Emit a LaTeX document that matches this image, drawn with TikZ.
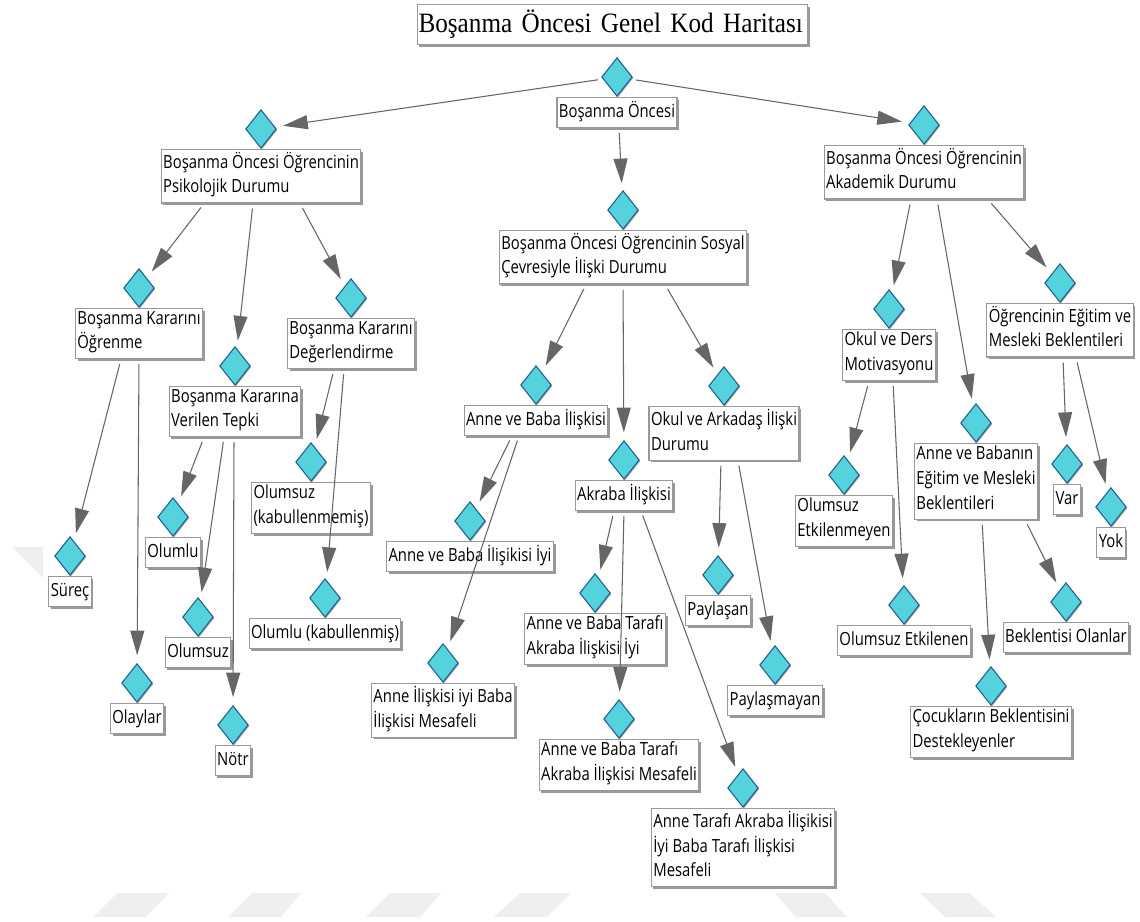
\documentclass[tikz,border=0pt]{standalone}
\usepackage{fontspec}
\setmainfont[FakeStretch=0.82]{Open Sans}
\newfontfamily\titlefont[FakeStretch=0.90]{Liberation Serif}
\usetikzlibrary{positioning,shapes.geometric,shadows,arrows.meta}
\definecolor{pointfill}{HTML}{55D3DC}
\definecolor{pointline}{HTML}{1F5F8F}
\definecolor{boxline}{HTML}{999999}
\definecolor{arrowgray}{HTML}{666666}
\definecolor{stripegray}{HTML}{EFEFEF}

\begin{document}
\begin{tikzpicture}[x=0.75pt,y=-0.75pt,
    point/.style={diamond,draw=pointline,fill=pointfill,line width=0.8pt,minimum width=23pt,minimum height=29pt,inner sep=0pt,drop shadow={shadow xshift=0.8pt,shadow yshift=-0.8pt,fill=gray!70,opacity=1}},
    box/.style={draw=boxline,fill=white,line width=0.8pt,align=left,inner xsep=1.5pt,inner ysep=2pt,font=\fontsize{13.6}{18.5}\selectfont,execute at begin node=\strut,execute at end node=\strut,drop shadow={shadow xshift=1.6pt,shadow yshift=-1.6pt,fill=gray!80,opacity=1}},
    titlebox/.style={draw=boxline,fill=white,line width=0.8pt,text width=291pt,align=left,minimum height=30pt,inner sep=1pt,font=\titlefont\fontsize{21}{24}\selectfont,drop shadow={shadow xshift=1.6pt,shadow yshift=-1.6pt,fill=gray!80,opacity=1}},
    every edge/.style={draw=arrowgray,line width=0.8pt,-{Triangle[length=18.5pt,width=10.5pt]},shorten <=3.75pt,shorten >=6pt}]
          \useasboundingbox (0,0) rectangle (1140,922);
          \fill[stripegray] (93,917) -- (117,893) -- (169,893) -- (146,917) -- cycle;
          \fill[stripegray] (228,917) -- (252,893) -- (301,893) -- (281,917) -- cycle;
          \fill[stripegray] (366,917) -- (390,893) -- (441,893) -- (420,917) -- cycle;
          \fill[stripegray] (494,917) -- (520,893) -- (571,893) -- (547,917) -- cycle;
          \fill[stripegray] (775,893) -- (825,893) -- (847,917) -- (796,917) -- cycle;
          \fill[stripegray] (920,893) -- (969,893) -- (996,917) -- (945,917) -- cycle;
          \fill[stripegray] (12,547) -- (43,547) -- (43,578) -- cycle;
          \node[titlebox](title) at (612.5,24.5) {\mbox{Boşanma Öncesi Genel Kod Haritası}};
          \node[point](d0)  at (617,77)   {};
          \node[box](b0)    [below=0pt of d0]   {Boşanma Öncesi};
          \node[point](d1)  at (261,129)  {};
          \node[box](b1)    [below=0pt of d1]   {Boşanma Öncesi Öğrencinin\\Psikolojik Durumu};
          \node[point](d2)  at (623,210)  {};
          \node[box](b2)    [below=0pt of d2]   {Boşanma Öncesi Öğrencinin Sosyal\\Çevresiyle İlişki Durumu};
          \node[point](d3)  at (924,125)  {};
          \node[box](b3)    [below=0pt of d3]   {Boşanma Öncesi Öğrencinin\\Akademik Durumu};
          \node[point](d4)  at (139,288)  {};
          \node[box](b4)    [below=0pt of d4]   {Boşanma Kararını\\Öğrenme};
          \node[point](d5)  at (235,366)  {};
          \node[box](b5)    [below=0pt of d5]   {Boşanma Kararına\\Verilen Tepki};
          \node[point](d6)  at (351,298)  {};
          \node[box](b6)    [below=0pt of d6]   {Boşanma Kararını\\Değerlendirme};
          \node[point](d7)  at (70,556)   {};
          \node[box](b7)    [below=0pt of d7]   {Süreç};
          \node[point](d8)  at (137,683)  {};
          \node[box](b8)    [below=0pt of d8]   {Olaylar};
          \node[point](d9)  at (173,517)  {};
          \node[box](b9)    [below=0pt of d9]   {Olumlu};
          \node[point](d10) at (198,617)  {};
          \node[box](b10)   [below=0pt of d10]  {Olumsuz};
          \node[point](d11) at (233,725)  {};
          \node[box](b11)   [below=0pt of d11]  {Nötr};
          \node[point](d12) at (311,462)  {};
          \node[box](b12)   [below=0pt of d12]  {Olumsuz\\(kabullenmemiş)};
          \node[point](d13) at (325,598)  {};
          \node[box](b13)   [below=0pt of d13]  {Olumlu (kabullenmiş)};
          \node[point](d14) at (536,385)  {};
          \node[box](b14)   [below=0pt of d14]  {Anne ve Baba İlişkisi};
          \node[point](d15) at (624,460)  {};
          \node[box](b15)   [below=0pt of d15]  {Akraba İlişkisi};
          \node[point](d16) at (724,386)  {};
          \node[box](b16)   [below=0pt of d16]  {Okul ve Arkadaş İlişki\\Durumu};
          \node[point](d17) at (470,521)  {};
          \node[box](b17)   [below=0pt of d17]  {Anne ve Baba İlişikisi İyi};
          \node[point](d18) at (443,663)  {};
          \node[box](b18)   [below=0pt of d18]  {Anne İlişkisi iyi Baba\\İlişkisi Mesafeli};
          \node[point](d19) at (595,593)  {};
          \node[box](b19)   [below=0pt of d19]  {Anne ve Baba Tarafı\\Akraba İlişkisi İyi};
          \node[point](d20) at (619,719)  {};
          \node[box](b20)   [below=0pt of d20]  {Anne ve Baba Tarafı\\Akraba İlişkisi Mesafeli};
          \node[point](d21) at (743,788)  {};
          \node[box](b21)   [below=0pt of d21]  {Anne Tarafı Akraba İlişikisi\\İyi Baba Tarafı İlişkisi\\Mesafeli};
          \node[point](d22) at (718,575)  {};
          \node[box](b22)   [below=0pt of d22]  {Paylaşan};
          \node[point](d23) at (775,665)  {};
          \node[box](b23)   [below=0pt of d23]  {Paylaşmayan};
          \node[point](d24) at (889,309)  {};
          \node[box](b24)   [below=0pt of d24]  {Okul ve Ders\\Motivasyonu};
          \node[point](d25) at (976,423)  {};
          \node[box](b25)   [below=0pt of d25]  {Anne ve Babanın\\Eğitim ve Mesleki\\Beklentileri};
          \node[point](d26) at (1060,283) {};
          \node[box](b26)   [below=0pt of d26]  {Öğrencinin Eğitim ve\\Mesleki Beklentileri};
          \node[point](d27) at (844,475)  {};
          \node[box](b27)   [below=0pt of d27]  {Olumsuz\\Etkilenmeyen};
          \node[point](d28) at (904,605)  {};
          \node[box](b28)   [below=0pt of d28]  {Olumsuz Etkilenen};
          \node[point](d29) at (991,686)  {};
          \node[box](b29)   [below=0pt of d29]  {Çocukların Beklentisini\\Destekleyenler};
          \node[point](d30) at (1066,602) {};
          \node[box](b30)   [below=0pt of d30]  {Beklentisi Olanlar};
          \node[point](d31) at (1067,464) {};
          \node[box](b31)   [below=0pt of d31]  {Var};
          \node[point](d32) at (1111,507) {};
          \node[box](b32)   [below=0pt of d32]  {Yok};
          \path
            (d0) edge (d1)
            (d0) edge (d3)
            ([xshift=1.5pt]b0.south) edge (d2)
            ([xshift=-42.75pt]b1.south) edge (d4)
            ([xshift=-6pt]b1.south) edge (d5)
            ([xshift=29.25pt]b1.south) edge (d6)
            ([xshift=-27.75pt]b2.south) edge (d14)
            (b2.south) edge (d15)
            ([xshift=31.5pt]b2.south) edge (d16)
            ([xshift=-9.75pt]b3.south) edge (d24)
            ([xshift=9.75pt]b3.south) edge (d25)
            ([xshift=48pt]b3.south) edge (d26)
            ([xshift=-13.5pt]b4.south) edge (d7)
            (b4.south) edge (d8)
            ([xshift=-23.25pt]b5.south) edge (d9)
            ([xshift=-8.25pt]b5.south) edge (d10)
            ([xshift=-0.75pt]b5.south) edge (d11)
            ([xshift=-12.75pt]b6.south) edge (d12)
            ([xshift=-5.25pt]b6.south) edge (d13)
            ([xshift=-18pt]b14.south) edge (d17)
            ([xshift=-12.75pt]b14.south) edge (d18)
            ([xshift=-7.5pt]b15.south) edge (d19)
            (b15.south) edge (d20)
            ([xshift=12.75pt]b15.south) edge (d21)
            ([xshift=-2.25pt]b16.south) edge (d22)
            ([xshift=10.5pt]b16.south) edge (d23)
            ([xshift=-15pt]b24.south) edge (d27)
            ([xshift=3pt]b24.south) edge (d28)
            ([xshift=4.5pt]b25.south) edge (d29)
            ([xshift=36.75pt]b25.south) edge (d30)
            ([xshift=2.25pt]b26.south) edge (d31)
            ([xshift=12pt]b26.south) edge (d32)
            ;
\end{tikzpicture}
\end{document}
